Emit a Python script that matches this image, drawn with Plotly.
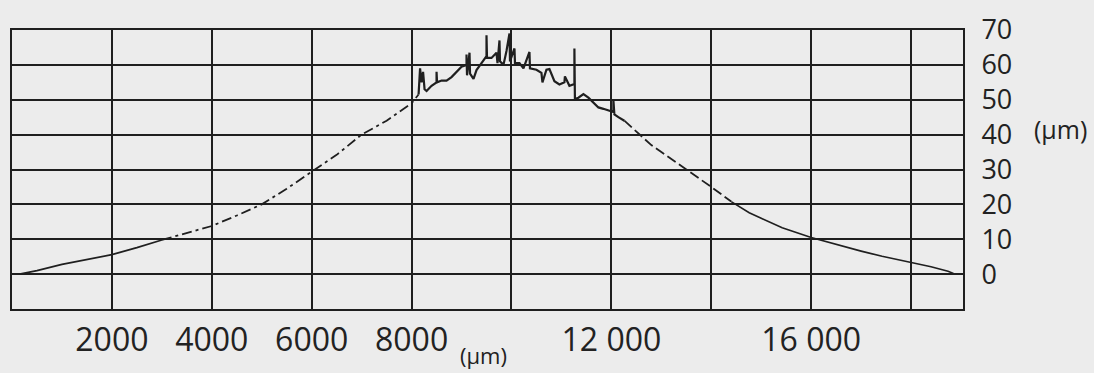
import plotly.graph_objects as go

# ---- data (µm) ----
x_tickvals = [2000, 4000, 6000, 8000, 10000, 12000, 14000, 16000, 18000]
x_ticktext = ["2000", "4000", "6000", "8000", "", "12 000", "", "16 000", ""]
y_tickvals = [0, 10, 20, 30, 40, 50, 60, 70]
y_ticktext = ["0", "10", "20", "30", "40", "50", "60", "70"]

# left flank: thin solid start
left_solid_x = [150, 500, 1000, 1500, 2000, 2500, 3000]
left_solid_y = [0.0, 1.0, 2.8, 4.3, 5.6, 7.6, 9.8]

# left flank: dashed
left_dash_x = [3000, 3500, 4000, 4500, 5000, 5500, 6000, 6500, 7000, 7500, 8000, 8140]
left_dash_y = [9.8, 11.8, 13.8, 16.8, 20.0, 24.5, 29.4, 34.2, 40.0, 44.0, 49.0, 51.5]

# measured top (noisy, solid)
top_x = [8140, 8170, 8200, 8230, 8260, 8300, 8400, 8500, 8500, 8510, 8600, 8700, 8800,
         8940, 9000, 9100, 9100, 9110, 9160, 9170, 9240, 9300, 9400, 9500, 9500, 9510,
         9600, 9700, 9720, 9760, 9770, 9840, 9900, 9960, 9970, 10060, 10070, 10160,
         10240, 10360, 10370, 10500, 10600, 10620, 10700, 10760, 10860, 10960, 11060,
         11070, 11160, 11260, 11260, 11270, 11340, 11440, 11540, 11640, 11740, 11840,
         11940, 12040, 12040, 12060, 12140, 12260]
top_y = [51.5, 59.0, 55.0, 58.0, 53.0, 52.5, 54.0, 55.0, 58.0, 55.0, 55.5, 55.5, 56.5,
         58.5, 59.5, 60.0, 63.0, 57.0, 63.5, 57.5, 56.0, 58.5, 60.5, 62.5, 68.5, 62.0,
         62.0, 63.5, 60.5, 67.0, 61.0, 60.0, 64.0, 69.0, 61.0, 64.7, 60.5, 60.5,
         59.0, 63.7, 59.0, 58.6, 57.7, 55.0, 58.6, 58.8, 55.3, 54.4, 55.0,
         56.7, 54.0, 54.5, 64.7, 50.2, 50.6, 51.6, 50.6, 49.2, 47.8, 47.4,
         47.0, 46.5, 50.0, 45.8, 45.0, 44.0]

# right flank: dashed
right_dash_x = [12260, 12600, 12800, 13000, 13460, 14000, 14400]
right_dash_y = [44.0, 39.5, 37.0, 35.0, 30.5, 25.0, 20.8]

# right flank: thin solid end
right_solid_x = [14400, 14760, 15000, 15420, 16000, 16500, 16760, 17000, 17420, 18000, 18400, 18740, 18850]
right_solid_y = [20.8, 17.6, 16.0, 13.3, 10.5, 8.5, 7.6, 6.6, 5.1, 3.4, 2.1, 0.8, 0.2]

INK = "#1f1f1f"
BG = "#ececec"
TXT = "#222222"

fig = go.Figure()
fig.add_trace(go.Scatter(x=left_solid_x, y=left_solid_y, mode="lines",
                         line=dict(color=INK, width=1.6), showlegend=False))
fig.add_trace(go.Scatter(x=left_dash_x, y=left_dash_y, mode="lines",
                         line=dict(color=INK, width=1.8, dash="10px,4px,3px,4px"), showlegend=False))
fig.add_trace(go.Scatter(x=top_x, y=top_y, mode="lines",
                         line=dict(color=INK, width=2.2), showlegend=False))
fig.add_trace(go.Scatter(x=right_dash_x, y=right_dash_y, mode="lines",
                         line=dict(color=INK, width=1.8, dash="10px,4px"), showlegend=False))
fig.add_trace(go.Scatter(x=right_solid_x, y=right_solid_y, mode="lines",
                         line=dict(color=INK, width=1.6), showlegend=False))

fig.update_layout(
    width=1094, height=373,
    margin=dict(l=10, r=131, t=28, b=64),
    paper_bgcolor=BG, plot_bgcolor=BG,
    font=dict(family="Open Sans", color=TXT),
    xaxis=dict(range=[0, 19040], tickvals=x_tickvals, ticktext=x_ticktext,
               showgrid=True, gridcolor=INK, gridwidth=1.8,
               showline=True, linecolor=INK, linewidth=2, mirror=True,
               ticks="", ticklabelstandoff=2, tickfont=dict(size=32, color=TXT),
               zeroline=False, fixedrange=True),
    yaxis=dict(range=[-10, 70], tickvals=y_tickvals, ticktext=y_ticktext,
               side="right", showgrid=True, gridcolor=INK, gridwidth=1.8,
               showline=True, linecolor=INK, linewidth=2, mirror=True,
               ticks="", ticklabelstandoff=11,
               tickfont=dict(size=27, color=TXT),
               zeroline=False, fixedrange=True),
    annotations=[
        dict(text="(µm)", xref="paper", yref="paper", x=1.0, y=0.0,
             xshift=(483 - 963), yshift=-(355 - 309), showarrow=False,
             font=dict(size=22, color=TXT), xanchor="center", yanchor="middle"),
        dict(text="(µm)", xref="paper", yref="paper", x=1.0, y=1.0,
             xshift=(1060 - 963), yshift=-(127 - 28), showarrow=False,
             font=dict(size=25, color=TXT), xanchor="center", yanchor="middle"),
    ],
)

fig.write_html(
    "out.html",
    config={"displayModeBar": False},
    post_script="document.body.style.margin='0';document.body.style.overflow='hidden';",
)
